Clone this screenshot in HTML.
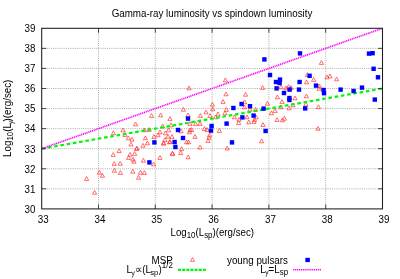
<!DOCTYPE html>
<html><head><meta charset="utf-8"><title>Gamma-ray luminosity vs spindown luminosity</title>
<style>
html,body{margin:0;padding:0;background:#fff;}
body{width:400px;height:279px;overflow:hidden;font-family:"Liberation Sans",sans-serif;}
svg{display:block;will-change:transform;font-size:10.32px;}
text{font-family:"Liberation Sans",sans-serif;fill:#000;}
.g{stroke:#808080;stroke-width:0.8;stroke-dasharray:0.7 1.175;fill:none;}
.t{stroke:#333;stroke-width:0.9;fill:none;}
.tr{fill:none;stroke:#ff3030;stroke-width:0.7;stroke-linejoin:miter;}
.sq{fill:#0000ff;}
</style></head><body>
<svg width="400" height="279" viewBox="0 0 400 279">
<rect x="0" y="0" width="400" height="279" fill="#fff"/>

<line class="g" x1="98.50" y1="28.3" x2="98.50" y2="208.9"/>
<line class="g" x1="155.30" y1="28.3" x2="155.30" y2="208.9"/>
<line class="g" x1="212.10" y1="28.3" x2="212.10" y2="208.9"/>
<line class="g" x1="268.90" y1="28.3" x2="268.90" y2="208.9"/>
<line class="g" x1="325.70" y1="28.3" x2="325.70" y2="208.9"/>
<line class="g" x1="41.7" y1="188.83" x2="382.5" y2="188.83"/>
<line class="g" x1="41.7" y1="168.77" x2="382.5" y2="168.77"/>
<line class="g" x1="41.7" y1="148.70" x2="382.5" y2="148.70"/>
<line class="g" x1="41.7" y1="128.63" x2="382.5" y2="128.63"/>
<line class="g" x1="41.7" y1="108.57" x2="382.5" y2="108.57"/>
<line class="g" x1="41.7" y1="88.50" x2="382.5" y2="88.50"/>
<line class="g" x1="41.7" y1="68.43" x2="382.5" y2="68.43"/>
<line class="g" x1="41.7" y1="48.37" x2="382.5" y2="48.37"/>
<path class="tr" d="M86.6 176.6L88.7 180.4L84.5 180.4Z"/>
<path class="tr" d="M94.6 190.4L96.7 194.2L92.5 194.2Z"/>
<path class="tr" d="M99.4 170.4L101.5 174.2L97.3 174.2Z"/>
<path class="tr" d="M102.4 173.4L104.5 177.2L100.3 177.2Z"/>
<path class="tr" d="M114.4 168.4L116.5 172.2L112.3 172.2Z"/>
<path class="tr" d="M120.4 170.6L122.5 174.4L118.3 174.4Z"/>
<path class="tr" d="M114.2 161.6L116.3 165.4L112.1 165.4Z"/>
<path class="tr" d="M120.2 161.4L122.3 165.2L118.1 165.2Z"/>
<path class="tr" d="M113.2 152.6L115.3 156.4L111.1 156.4Z"/>
<path class="tr" d="M119.2 148.8L121.3 152.6L117.1 152.6Z"/>
<path class="tr" d="M128.6 155.6L130.7 159.4L126.5 159.4Z"/>
<path class="tr" d="M130.0 152.4L132.1 156.2L127.9 156.2Z"/>
<path class="tr" d="M134.6 151.6L136.7 155.4L132.5 155.4Z"/>
<path class="tr" d="M133.0 157.2L135.1 161.0L130.9 161.0Z"/>
<path class="tr" d="M134.0 159.4L136.1 163.2L131.9 163.2Z"/>
<path class="tr" d="M132.8 169.4L134.9 173.2L130.7 173.2Z"/>
<path class="tr" d="M140.4 170.4L142.5 174.2L138.3 174.2Z"/>
<path class="tr" d="M144.4 170.6L146.5 174.4L142.3 174.4Z"/>
<path class="tr" d="M138.6 175.4L140.7 179.2L136.5 179.2Z"/>
<path class="tr" d="M143.4 158.4L145.5 162.2L141.3 162.2Z"/>
<path class="tr" d="M160.0 155.6L162.1 159.4L157.9 159.4Z"/>
<path class="tr" d="M172.6 151.4L174.7 155.2L170.5 155.2Z"/>
<path class="tr" d="M153.6 162.0L155.7 165.8L151.5 165.8Z"/>
<path class="tr" d="M136.6 146.6L138.7 150.4L134.5 150.4Z"/>
<path class="tr" d="M135.6 122.0L137.7 125.8L133.5 125.8Z"/>
<path class="tr" d="M151.6 113.6L153.7 117.4L149.5 117.4Z"/>
<path class="tr" d="M160.6 113.0L162.7 116.8L158.5 116.8Z"/>
<path class="tr" d="M170.0 116.6L172.1 120.4L167.9 120.4Z"/>
<path class="tr" d="M123.0 128.0L125.1 131.8L120.9 131.8Z"/>
<path class="tr" d="M113.4 131.0L115.5 134.8L111.3 134.8Z"/>
<path class="tr" d="M125.0 132.6L127.1 136.4L122.9 136.4Z"/>
<path class="tr" d="M128.4 136.0L130.5 139.8L126.3 139.8Z"/>
<path class="tr" d="M132.0 137.4L134.1 141.2L129.9 141.2Z"/>
<path class="tr" d="M131.0 142.2L133.1 146.0L128.9 146.0Z"/>
<path class="tr" d="M137.0 146.2L139.1 150.0L134.9 150.0Z"/>
<path class="tr" d="M144.4 128.0L146.5 131.8L142.3 131.8Z"/>
<path class="tr" d="M149.0 127.6L151.1 131.4L146.9 131.4Z"/>
<path class="tr" d="M162.6 124.0L164.7 127.8L160.5 127.8Z"/>
<path class="tr" d="M171.0 123.0L173.1 126.8L168.9 126.8Z"/>
<path class="tr" d="M168.6 128.0L170.7 131.8L166.5 131.8Z"/>
<path class="tr" d="M160.0 130.0L162.1 133.8L157.9 133.8Z"/>
<path class="tr" d="M158.0 133.0L160.1 136.8L155.9 136.8Z"/>
<path class="tr" d="M154.0 134.6L156.1 138.4L151.9 138.4Z"/>
<path class="tr" d="M165.4 131.0L167.5 134.8L163.3 134.8Z"/>
<path class="tr" d="M168.0 134.4L170.1 138.2L165.9 138.2Z"/>
<path class="tr" d="M172.0 134.6L174.1 138.4L169.9 138.4Z"/>
<path class="tr" d="M145.4 136.0L147.5 139.8L143.3 139.8Z"/>
<path class="tr" d="M165.0 137.6L167.1 141.4L162.9 141.4Z"/>
<path class="tr" d="M169.6 140.0L171.7 143.8L167.5 143.8Z"/>
<path class="tr" d="M147.4 141.0L149.5 144.8L145.3 144.8Z"/>
<path class="tr" d="M143.0 143.4L145.1 147.2L140.9 147.2Z"/>
<path class="tr" d="M163.4 141.0L165.5 144.8L161.3 144.8Z"/>
<path class="tr" d="M183.4 107.4L185.5 111.2L181.3 111.2Z"/>
<path class="tr" d="M212.4 102.4L214.5 106.2L210.3 106.2Z"/>
<path class="tr" d="M223.0 99.6L225.1 103.4L220.9 103.4Z"/>
<path class="tr" d="M212.6 107.0L214.7 110.8L210.5 110.8Z"/>
<path class="tr" d="M206.0 110.0L208.1 113.8L203.9 113.8Z"/>
<path class="tr" d="M200.4 113.6L202.5 117.4L198.3 117.4Z"/>
<path class="tr" d="M188.0 113.0L190.1 116.8L185.9 116.8Z"/>
<path class="tr" d="M210.0 113.6L212.1 117.4L207.9 117.4Z"/>
<path class="tr" d="M218.0 112.0L220.1 115.8L215.9 115.8Z"/>
<path class="tr" d="M215.6 115.0L217.7 118.8L213.5 118.8Z"/>
<path class="tr" d="M226.4 107.6L228.5 111.4L224.3 111.4Z"/>
<path class="tr" d="M225.0 111.0L227.1 114.8L222.9 114.8Z"/>
<path class="tr" d="M244.6 100.0L246.7 103.8L242.5 103.8Z"/>
<path class="tr" d="M244.4 105.0L246.5 108.8L242.3 108.8Z"/>
<path class="tr" d="M190.0 121.6L192.1 125.4L187.9 125.4Z"/>
<path class="tr" d="M195.6 121.6L197.7 125.4L193.5 125.4Z"/>
<path class="tr" d="M200.0 121.6L202.1 125.4L197.9 125.4Z"/>
<path class="tr" d="M204.4 126.6L206.5 130.4L202.3 130.4Z"/>
<path class="tr" d="M207.0 127.6L209.1 131.4L204.9 131.4Z"/>
<path class="tr" d="M219.4 128.6L221.5 132.4L217.3 132.4Z"/>
<path class="tr" d="M181.0 129.0L183.1 132.8L178.9 132.8Z"/>
<path class="tr" d="M190.0 128.0L192.1 131.8L187.9 131.8Z"/>
<path class="tr" d="M191.6 127.6L193.7 131.4L189.5 131.4Z"/>
<path class="tr" d="M189.4 130.0L191.5 133.8L187.3 133.8Z"/>
<path class="tr" d="M195.0 134.6L197.1 138.4L192.9 138.4Z"/>
<path class="tr" d="M209.6 133.0L211.7 136.8L207.5 136.8Z"/>
<path class="tr" d="M209.0 135.4L211.1 139.2L206.9 139.2Z"/>
<path class="tr" d="M208.0 138.6L210.1 142.4L205.9 142.4Z"/>
<path class="tr" d="M186.6 140.0L188.7 143.8L184.5 143.8Z"/>
<path class="tr" d="M188.6 140.0L190.7 143.8L186.5 143.8Z"/>
<path class="tr" d="M200.0 145.2L202.1 149.0L197.9 149.0Z"/>
<path class="tr" d="M181.6 146.8L183.7 150.6L179.5 150.6Z"/>
<path class="tr" d="M227.2 146.2L229.3 150.0L225.1 150.0Z"/>
<path class="tr" d="M234.4 115.0L236.5 118.8L232.3 118.8Z"/>
<path class="tr" d="M239.0 117.4L241.1 121.2L236.9 121.2Z"/>
<path class="tr" d="M238.6 120.6L240.7 124.4L236.5 124.4Z"/>
<path class="tr" d="M247.0 115.0L249.1 118.8L244.9 118.8Z"/>
<path class="tr" d="M248.8 120.0L250.9 123.8L246.7 123.8Z"/>
<path class="tr" d="M172.4 151.4L174.5 155.2L170.3 155.2Z"/>
<path class="tr" d="M180.8 150.8L182.9 154.6L178.7 154.6Z"/>
<path class="tr" d="M188.2 155.0L190.3 158.8L186.1 158.8Z"/>
<path class="tr" d="M163.8 141.2L165.9 145.0L161.7 145.0Z"/>
<path class="tr" d="M170.0 139.6L172.1 143.4L167.9 143.4Z"/>
<path class="tr" d="M250.0 107.4L252.1 111.2L247.9 111.2Z"/>
<path class="tr" d="M255.6 107.4L257.7 111.2L253.5 111.2Z"/>
<path class="tr" d="M267.4 101.4L269.5 105.2L265.3 105.2Z"/>
<path class="tr" d="M282.0 99.6L284.1 103.4L279.9 103.4Z"/>
<path class="tr" d="M281.0 105.0L283.1 108.8L278.9 108.8Z"/>
<path class="tr" d="M289.0 106.0L291.1 109.8L286.9 109.8Z"/>
<path class="tr" d="M293.0 103.0L295.1 106.8L290.9 106.8Z"/>
<path class="tr" d="M306.0 102.0L308.1 105.8L303.9 105.8Z"/>
<path class="tr" d="M318.4 104.8L320.5 108.6L316.3 108.6Z"/>
<path class="tr" d="M271.4 111.0L273.5 114.8L269.3 114.8Z"/>
<path class="tr" d="M275.0 108.6L277.1 112.4L272.9 112.4Z"/>
<path class="tr" d="M256.0 115.0L258.1 118.8L253.9 118.8Z"/>
<path class="tr" d="M277.0 117.6L279.1 121.4L274.9 121.4Z"/>
<path class="tr" d="M282.4 118.0L284.5 121.8L280.3 121.8Z"/>
<path class="tr" d="M284.4 116.4L286.5 120.2L282.3 120.2Z"/>
<path class="tr" d="M254.0 119.6L256.1 123.4L251.9 123.4Z"/>
<path class="tr" d="M254.6 117.6L256.7 121.4L252.5 121.4Z"/>
<path class="tr" d="M263.0 122.6L265.1 126.4L260.9 126.4Z"/>
<path class="tr" d="M261.6 139.0L263.7 142.8L259.5 142.8Z"/>
<path class="tr" d="M318.0 126.4L320.1 130.2L315.9 130.2Z"/>
<path class="tr" d="M189.0 86.0L191.1 89.8L186.9 89.8Z"/>
<path class="tr" d="M225.4 78.0L227.5 81.8L223.3 81.8Z"/>
<path class="tr" d="M226.0 92.0L228.1 95.8L223.9 95.8Z"/>
<path class="tr" d="M245.6 92.4L247.7 96.2L243.5 96.2Z"/>
<path class="tr" d="M321.4 60.6L323.5 64.4L319.3 64.4Z"/>
<path class="tr" d="M262.6 85.6L264.7 89.4L260.5 89.4Z"/>
<path class="tr" d="M281.0 85.0L283.1 88.8L278.9 88.8Z"/>
<path class="tr" d="M286.0 86.0L288.1 89.8L283.9 89.8Z"/>
<path class="tr" d="M288.4 84.6L290.5 88.4L286.3 88.4Z"/>
<path class="tr" d="M291.0 85.6L293.1 89.4L288.9 89.4Z"/>
<path class="tr" d="M277.4 95.0L279.5 98.8L275.3 98.8Z"/>
<path class="tr" d="M295.0 96.0L297.1 99.8L292.9 99.8Z"/>
<path class="tr" d="M306.4 94.0L308.5 97.8L304.3 97.8Z"/>
<path class="tr" d="M306.6 80.0L308.7 83.8L304.5 83.8Z"/>
<path class="tr" d="M307.4 72.6L309.5 76.4L305.3 76.4Z"/>
<path class="tr" d="M313.6 77.6L315.7 81.4L311.5 81.4Z"/>
<path class="tr" d="M319.4 84.0L321.5 87.8L317.3 87.8Z"/>
<path class="tr" d="M319.0 86.4L321.1 90.2L316.9 90.2Z"/>
<path class="tr" d="M327.0 75.0L329.1 78.8L324.9 78.8Z"/>
<path class="tr" d="M330.0 74.0L332.1 77.8L327.9 77.8Z"/>
<path class="tr" d="M336.6 77.0L338.7 80.8L334.5 80.8Z"/>
<line x1="41.7" y1="148.70" x2="382.5" y2="88.50" stroke="#00f800" stroke-width="2.2" stroke-dasharray="3.6 2.73" fill="none"/>
<rect class="sq" x="152.2" y="140.2" width="4.4" height="4.4"/>
<rect class="sq" x="175.8" y="127.8" width="4.4" height="4.4"/>
<rect class="sq" x="172.4" y="139.8" width="4.4" height="4.4"/>
<rect class="sq" x="173.2" y="144.8" width="4.4" height="4.4"/>
<rect class="sq" x="147.2" y="160.2" width="4.4" height="4.4"/>
<rect class="sq" x="185.8" y="116.4" width="4.4" height="4.4"/>
<rect class="sq" x="180.8" y="135.8" width="4.4" height="4.4"/>
<rect class="sq" x="209.4" y="123.8" width="4.4" height="4.4"/>
<rect class="sq" x="208.8" y="128.4" width="4.4" height="4.4"/>
<rect class="sq" x="224.4" y="121.4" width="4.4" height="4.4"/>
<rect class="sq" x="231.2" y="105.8" width="4.4" height="4.4"/>
<rect class="sq" x="239.4" y="101.8" width="4.4" height="4.4"/>
<rect class="sq" x="240.2" y="115.2" width="4.4" height="4.4"/>
<rect class="sq" x="229.8" y="140.2" width="4.4" height="4.4"/>
<rect class="sq" x="247.8" y="104.0" width="4.4" height="4.4"/>
<rect class="sq" x="261.4" y="106.4" width="4.4" height="4.4"/>
<rect class="sq" x="251.4" y="113.4" width="4.4" height="4.4"/>
<rect class="sq" x="263.4" y="128.8" width="4.4" height="4.4"/>
<rect class="sq" x="303.0" y="106.2" width="4.4" height="4.4"/>
<rect class="sq" x="287.2" y="97.8" width="4.4" height="4.4"/>
<rect class="sq" x="262.2" y="57.2" width="4.4" height="4.4"/>
<rect class="sq" x="297.8" y="51.2" width="4.4" height="4.4"/>
<rect class="sq" x="267.8" y="72.8" width="4.4" height="4.4"/>
<rect class="sq" x="277.8" y="77.4" width="4.4" height="4.4"/>
<rect class="sq" x="273.8" y="79.8" width="4.4" height="4.4"/>
<rect class="sq" x="277.4" y="80.8" width="4.4" height="4.4"/>
<rect class="sq" x="274.4" y="86.2" width="4.4" height="4.4"/>
<rect class="sq" x="281.8" y="90.8" width="4.4" height="4.4"/>
<rect class="sq" x="287.4" y="87.4" width="4.4" height="4.4"/>
<rect class="sq" x="287.2" y="95.8" width="4.4" height="4.4"/>
<rect class="sq" x="297.4" y="79.8" width="4.4" height="4.4"/>
<rect class="sq" x="296.8" y="87.4" width="4.4" height="4.4"/>
<rect class="sq" x="307.4" y="73.6" width="4.4" height="4.4"/>
<rect class="sq" x="313.8" y="83.4" width="4.4" height="4.4"/>
<rect class="sq" x="321.4" y="87.8" width="4.4" height="4.4"/>
<rect class="sq" x="321.8" y="91.0" width="4.4" height="4.4"/>
<rect class="sq" x="366.8" y="51.4" width="4.4" height="4.4"/>
<rect class="sq" x="370.4" y="51.0" width="4.4" height="4.4"/>
<rect class="sq" x="371.4" y="66.6" width="4.4" height="4.4"/>
<rect class="sq" x="375.8" y="75.1" width="4.4" height="4.4"/>
<rect class="sq" x="359.8" y="85.4" width="4.4" height="4.4"/>
<rect class="sq" x="338.4" y="87.4" width="4.4" height="4.4"/>
<rect class="sq" x="351.4" y="88.8" width="4.4" height="4.4"/>
<rect class="sq" x="372.6" y="97.4" width="4.4" height="4.4"/>
<line x1="41.7" y1="148.70" x2="382.5" y2="28.30" stroke="#ff00ff" stroke-width="1.65" stroke-dasharray="1.2 0.7" fill="none"/>
<text transform="translate(43.20,222.6) scale(0.95,1)" text-anchor="middle">33</text>
<line class="t" x1="98.50" y1="208.9" x2="98.50" y2="204.5"/>
<line class="t" x1="98.50" y1="28.3" x2="98.50" y2="32.7"/>
<text transform="translate(100.00,222.6) scale(0.95,1)" text-anchor="middle">34</text>
<line class="t" x1="155.30" y1="208.9" x2="155.30" y2="204.5"/>
<line class="t" x1="155.30" y1="28.3" x2="155.30" y2="32.7"/>
<text transform="translate(156.80,222.6) scale(0.95,1)" text-anchor="middle">35</text>
<line class="t" x1="212.10" y1="208.9" x2="212.10" y2="204.5"/>
<line class="t" x1="212.10" y1="28.3" x2="212.10" y2="32.7"/>
<text transform="translate(213.60,222.6) scale(0.95,1)" text-anchor="middle">36</text>
<line class="t" x1="268.90" y1="208.9" x2="268.90" y2="204.5"/>
<line class="t" x1="268.90" y1="28.3" x2="268.90" y2="32.7"/>
<text transform="translate(270.40,222.6) scale(0.95,1)" text-anchor="middle">37</text>
<line class="t" x1="325.70" y1="208.9" x2="325.70" y2="204.5"/>
<line class="t" x1="325.70" y1="28.3" x2="325.70" y2="32.7"/>
<text transform="translate(327.20,222.6) scale(0.95,1)" text-anchor="middle">38</text>
<text transform="translate(384.00,222.6) scale(0.95,1)" text-anchor="middle">39</text>
<text transform="translate(35.4,212.70) scale(0.95,1)" text-anchor="end">30</text>
<line class="t" x1="41.7" y1="188.83" x2="46.1" y2="188.83"/>
<line class="t" x1="382.5" y1="188.83" x2="378.1" y2="188.83"/>
<text transform="translate(35.4,192.63) scale(0.95,1)" text-anchor="end">31</text>
<line class="t" x1="41.7" y1="168.77" x2="46.1" y2="168.77"/>
<line class="t" x1="382.5" y1="168.77" x2="378.1" y2="168.77"/>
<text transform="translate(35.4,172.57) scale(0.95,1)" text-anchor="end">32</text>
<line class="t" x1="41.7" y1="148.70" x2="46.1" y2="148.70"/>
<line class="t" x1="382.5" y1="148.70" x2="378.1" y2="148.70"/>
<text transform="translate(35.4,152.50) scale(0.95,1)" text-anchor="end">33</text>
<line class="t" x1="41.7" y1="128.63" x2="46.1" y2="128.63"/>
<line class="t" x1="382.5" y1="128.63" x2="378.1" y2="128.63"/>
<text transform="translate(35.4,132.43) scale(0.95,1)" text-anchor="end">34</text>
<line class="t" x1="41.7" y1="108.57" x2="46.1" y2="108.57"/>
<line class="t" x1="382.5" y1="108.57" x2="378.1" y2="108.57"/>
<text transform="translate(35.4,112.37) scale(0.95,1)" text-anchor="end">35</text>
<line class="t" x1="41.7" y1="88.50" x2="46.1" y2="88.50"/>
<line class="t" x1="382.5" y1="88.50" x2="378.1" y2="88.50"/>
<text transform="translate(35.4,92.30) scale(0.95,1)" text-anchor="end">36</text>
<line class="t" x1="41.7" y1="68.43" x2="46.1" y2="68.43"/>
<line class="t" x1="382.5" y1="68.43" x2="378.1" y2="68.43"/>
<text transform="translate(35.4,72.23) scale(0.95,1)" text-anchor="end">37</text>
<line class="t" x1="41.7" y1="48.37" x2="46.1" y2="48.37"/>
<line class="t" x1="382.5" y1="48.37" x2="378.1" y2="48.37"/>
<text transform="translate(35.4,52.17) scale(0.95,1)" text-anchor="end">38</text>
<text transform="translate(35.4,32.10) scale(0.95,1)" text-anchor="end">39</text>
<rect x="41.7" y="28.3" width="340.8" height="180.6" fill="none" stroke="#1c1c1c" stroke-width="1.05"/>
<text transform="translate(212,17) scale(0.95,1)" text-anchor="middle">Gamma-ray luminosity vs spindown luminosity</text>
<text transform="translate(170.5,235.9) scale(0.95,1)" font-size="10.23">Log<tspan font-size="8.32" dy="2.5">10</tspan><tspan dy="-2.5">(L</tspan><tspan font-size="8.32" dy="2.5">sp</tspan><tspan dy="-2.5">)(erg/sec)</tspan></text>
<g transform="translate(10.9,156.9) rotate(-90)">
<text transform="translate(0,0) scale(0.95,1)">Log<tspan font-size="8.32" dy="2.5">10</tspan><tspan dy="-2.5">(L</tspan></text>
<path d="M32.90 -1.40q0.90 -0.30 1.30 2.40M35.80 -1.70L33.60 3.90" fill="none" stroke="#000" stroke-width="0.62" stroke-linecap="round"/>
<text transform="translate(35.4,0) scale(0.95,1)">)(erg/sec)</text>
</g>
<text transform="translate(151.6,264.0) scale(0.95,1)">MSP</text>
<path class="tr" d="M192.5 257.6L194.6 261.4L190.4 261.4Z"/>
<text transform="translate(126.6,273.0) scale(0.95,1)">L</text>
<path d="M131.60 272.00q0.90 -0.30 1.30 2.40M134.50 271.70L132.30 277.30" fill="none" stroke="#000" stroke-width="0.62" stroke-linecap="round"/>
<text transform="translate(135,273.0) scale(0.95,1)" font-size="11.16">&#8733;</text>
<text transform="translate(142.2,273.0) scale(0.95,1)">(L</text>
<text transform="translate(150.2,275.3) scale(0.95,1)" font-size="8.11">sp</text>
<text transform="translate(158.5,273.0) scale(0.95,1)">)</text>
<text transform="translate(161.8,268.0) scale(0.95,1)" font-size="8.32">1/2</text>
<line x1="178" y1="269.8" x2="206.5" y2="269.8" stroke="#00f800" stroke-width="2.3" stroke-dasharray="3 1.15"/>
<text transform="translate(227.0,263.7) scale(0.95,1)">young pulsars</text>
<rect class="sq" x="305.35" y="257.80" width="4.5" height="4.3"/>
<text transform="translate(260.2,272.6) scale(0.95,1)">L</text>
<path d="M265.40 271.20q0.90 -0.30 1.30 2.40M268.30 270.90L266.10 276.50" fill="none" stroke="#000" stroke-width="0.62" stroke-linecap="round"/>
<text transform="translate(268.6,272.6) scale(0.95,1)">=L<tspan font-size="8.32" dy="2.4">sp</tspan></text>
<line x1="293.2" y1="269.7" x2="321" y2="269.7" stroke="#ff00ff" stroke-width="1.65" stroke-dasharray="1.2 0.7"/>
</svg></body></html>
